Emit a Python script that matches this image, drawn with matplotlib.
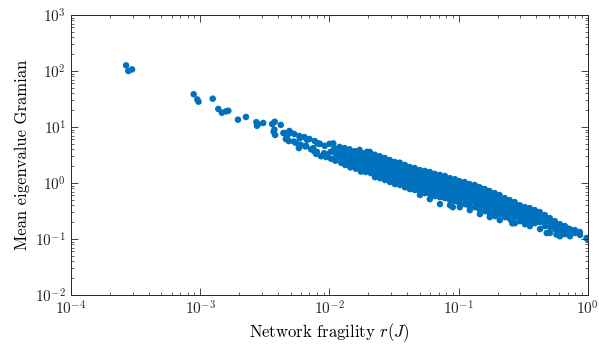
import matplotlib
matplotlib.use('Agg')
import matplotlib.pyplot as plt
import numpy as np

plt.rcParams['font.family'] = 'serif'
plt.rcParams['font.serif'] = ['cmr10', 'DejaVu Serif']
plt.rcParams['mathtext.fontset'] = 'cm'
plt.rcParams['axes.formatter.use_mathtext'] = True

# sparse tail (small fragility)
r_tail = [2.67e-4, 2.78e-4, 2.97e-4, 8.9e-4, 9.5e-4, 9.7e-4, 1.25e-3, 1.38e-3, 1.47e-3, 1.58e-3,
          1.65e-3, 1.96e-3, 2.26e-3, 2.72e-3, 2.75e-3, 2.8e-3, 3.07e-3, 3.6e-3, 3.77e-3, 3.7e-3,
          3.8e-3, 3.75e-3, 4.2e-3, 4.4e-3, 4.7e-3, 5.0e-3, 5.3e-3, 5.9e-3, 6.5e-3, 6.7e-3,
          7.5e-3, 8.0e-3, 8.4e-3, 9.6e-3, 8.1e-3, 1.07e-2]
g_tail = [126, 100, 107, 38.4, 31, 28.3, 32, 21, 18, 19,
          19.5, 13.5, 15.1, 12.2, 10.5, 11.2, 11.8, 11.3, 12.4, 8.2,
          7.2, 9.0, 10.9, 7.8, 6.7, 7.9, 5.5, 6.3, 4.5, 5.9,
          4.2, 3.6, 5.0, 3.2, 5.1, 5.1]

# band, 4.5e-3 .. 1.7e-2
r_band1 = [4.5e-3, 4.6e-3,
           4.9e-3, 4.85e-3,
           5.35e-3, 5.5e-3,
           5.85e-3, 6.0e-3, 5.8e-3,
           6.4e-3, 6.6e-3,
           7.0e-3, 7.2e-3,
           7.7e-3, 7.6e-3, 7.9e-3,
           8.4e-3, 8.6e-3,
           9.2e-3, 9.1e-3, 9.4e-3,
           1.0e-2, 1.02e-2, 1.03e-2,
           1.09e-2, 1.1e-2, 1.12e-2, 1.11e-2,
           1.2e-2, 1.21e-2, 1.22e-2, 1.19e-2, 1.23e-2,
           1.31e-2, 1.33e-2, 1.32e-2, 1.3e-2, 1.34e-2, 1.32e-2,
           1.43e-2, 1.45e-2, 1.44e-2, 1.46e-2, 1.42e-2, 1.44e-2, 1.45e-2,
           1.57e-2, 1.58e-2, 1.6e-2, 1.56e-2, 1.59e-2, 1.57e-2, 1.6e-2,
           1.71e-2, 1.72e-2, 1.74e-2, 1.7e-2, 1.73e-2, 1.71e-2, 1.75e-2]
g_band1 = [7.8, 6.1,
           8.5, 5.6,
           7.5, 5.2,
           6.9, 4.8, 4.2,
           6.6, 4.6,
           6.1, 4.0,
           5.6, 3.7, 3.3,
           5.0, 3.0,
           4.6, 3.4, 2.9,
           5.0, 3.6, 2.7,
           4.2, 3.6, 3.2, 2.5,
           4.4, 3.7, 3.3, 2.9, 2.3,
           4.2, 3.7, 3.2, 2.8, 2.5, 2.1,
           4.0, 3.6, 3.2, 2.8, 2.5, 2.2, 1.9,
           3.7, 3.3, 2.9, 2.6, 2.3, 2.0, 1.8,
           3.9, 3.2, 2.8, 2.5, 2.2, 1.9, 1.6]

# band, 1.9e-2 .. 6.6e-2
r_band2 = [1.87e-2, 1.88e-2, 1.9e-2, 1.86e-2, 1.89e-2, 1.88e-2, 1.91e-2, 1.95e-2,
           2.05e-2, 2.06e-2, 2.08e-2, 2.04e-2, 2.07e-2, 2.05e-2, 2.09e-2,
           2.24e-2, 2.25e-2, 2.27e-2, 2.23e-2, 2.26e-2, 2.24e-2, 2.28e-2, 2.25e-2,
           2.45e-2, 2.46e-2, 2.48e-2, 2.44e-2, 2.47e-2, 2.45e-2, 2.49e-2, 2.46e-2,
           2.68e-2, 2.69e-2, 2.71e-2, 2.67e-2, 2.7e-2, 2.68e-2, 2.72e-2, 2.69e-2,
           2.93e-2, 2.94e-2, 2.96e-2, 2.92e-2, 2.95e-2, 2.93e-2, 2.97e-2, 2.94e-2,
           3.2e-2, 3.21e-2, 3.23e-2, 3.19e-2, 3.22e-2, 3.2e-2, 3.24e-2, 3.21e-2,
           3.5e-2, 3.51e-2, 3.53e-2, 3.49e-2, 3.52e-2, 3.5e-2, 3.54e-2, 3.51e-2,
           3.83e-2, 3.84e-2, 3.86e-2, 3.82e-2, 3.85e-2, 3.83e-2, 3.87e-2, 3.84e-2,
           4.18e-2, 4.19e-2, 4.21e-2, 4.17e-2, 4.2e-2, 4.18e-2, 4.22e-2, 4.19e-2,
           4.57e-2, 4.58e-2, 4.6e-2, 4.56e-2, 4.59e-2, 4.57e-2, 4.61e-2, 4.58e-2,
           5.0e-2, 5.01e-2, 5.03e-2, 4.99e-2, 5.02e-2, 5.0e-2, 5.04e-2, 5.01e-2, 5.02e-2,
           5.47e-2, 5.48e-2, 5.5e-2, 5.46e-2, 5.49e-2, 5.47e-2, 5.51e-2, 5.48e-2,
           5.98e-2, 6.0e-2, 6.02e-2, 5.97e-2, 6.01e-2, 5.99e-2, 6.03e-2, 6.0e-2, 5.98e-2,
           6.54e-2, 6.55e-2, 6.57e-2, 6.53e-2, 6.56e-2, 6.54e-2, 6.58e-2, 6.55e-2]
g_band2 = [3.4, 3.0, 2.7, 2.4, 2.1, 1.85, 1.57, 3.6,
           3.6, 3.0, 2.6, 2.3, 2.0, 1.8, 1.5,
           3.2, 2.8, 2.5, 2.2, 1.9, 1.7, 1.45, 1.27,
           3.0, 2.7, 2.4, 2.1, 1.85, 1.64, 1.45, 1.22,
           2.8, 2.5, 2.2, 1.9, 1.7, 1.5, 1.33, 1.13,
           2.57, 2.3, 2.0, 1.8, 1.57, 1.39, 1.22, 1.04,
           2.37, 2.1, 1.85, 1.64, 1.45, 1.27, 1.13, 0.955,
           2.3, 2.0, 1.8, 1.57, 1.39, 1.22, 1.08, 0.92,
           2.1, 1.85, 1.64, 1.45, 1.27, 1.13, 1.0, 0.84,
           1.93, 1.70, 1.5, 1.33, 1.17, 1.04, 0.92, 0.78,
           1.85, 1.64, 1.45, 1.27, 1.13, 1.0, 0.88, 0.75,
           1.7, 1.5, 1.33, 1.17, 1.04, 0.92, 0.81, 0.69, 0.61,
           1.64, 1.45, 1.27, 1.13, 1.0, 0.88, 0.78, 0.66,
           1.57, 1.39, 1.22, 1.08, 0.955, 0.84, 0.746, 0.633, 0.515,
           1.45, 1.27, 1.13, 1.0, 0.88, 0.78, 0.687, 0.583]

# band, 7.2e-2 .. 0.21
r_band3 = [7.15e-2, 7.16e-2, 7.18e-2, 7.14e-2, 7.17e-2, 7.15e-2, 7.19e-2, 7.16e-2, 7.17e-2,
           7.82e-2, 7.83e-2, 7.85e-2, 7.81e-2, 7.84e-2, 7.82e-2, 7.86e-2, 7.83e-2,
           8.55e-2, 8.56e-2, 8.58e-2, 8.54e-2, 8.57e-2, 8.55e-2, 8.59e-2, 8.56e-2, 8.57e-2,
           9.35e-2, 9.36e-2, 9.38e-2, 9.34e-2, 9.37e-2, 9.35e-2, 9.39e-2, 9.36e-2, 9.0e-2,
           0.101, 0.102, 0.103, 0.1015, 0.1025, 0.102, 0.103, 0.101, 0.102,
           0.111, 0.112, 0.113, 0.1115, 0.1125, 0.112, 0.113, 0.112,
           0.121, 0.122, 0.123, 0.1215, 0.1225, 0.122, 0.123, 0.121, 0.122,
           0.133, 0.134, 0.135, 0.1335, 0.1345, 0.134, 0.135, 0.134,
           0.145, 0.146, 0.147, 0.1455, 0.1465, 0.146, 0.147, 0.145, 0.146, 0.15,
           0.159, 0.16, 0.161, 0.1595, 0.1605, 0.16, 0.161, 0.16,
           0.173, 0.174, 0.175, 0.1735, 0.1745, 0.174, 0.175, 0.173, 0.174,
           0.19, 0.191, 0.192, 0.1905, 0.1915, 0.191, 0.192, 0.191,
           0.207, 0.208, 0.209, 0.2075, 0.2085, 0.208, 0.209, 0.208]
g_band3 = [1.39, 1.22, 1.08, 0.955, 0.84, 0.746, 0.66, 0.56, 0.42,
           1.33, 1.17, 1.04, 0.92, 0.81, 0.72, 0.633, 0.537,
           1.22, 1.08, 0.955, 0.84, 0.746, 0.66, 0.583, 0.494, 0.40,
           1.17, 1.04, 0.92, 0.81, 0.72, 0.633, 0.56, 0.475, 0.37,
           1.08, 0.955, 0.84, 0.746, 0.66, 0.583, 0.515, 0.437, 0.37,
           1.04, 0.92, 0.81, 0.72, 0.633, 0.56, 0.494, 0.419,
           0.955, 0.84, 0.746, 0.66, 0.583, 0.515, 0.455, 0.386, 0.328,
           0.92, 0.81, 0.72, 0.633, 0.56, 0.494, 0.437, 0.37,
           0.84, 0.746, 0.66, 0.583, 0.515, 0.455, 0.40, 0.34, 0.278, 0.78,
           0.78, 0.687, 0.61, 0.537, 0.475, 0.419, 0.37, 0.315,
           0.72, 0.633, 0.56, 0.494, 0.437, 0.386, 0.34, 0.29, 0.246,
           0.66, 0.583, 0.515, 0.455, 0.40, 0.356, 0.302, 0.256,
           0.61, 0.537, 0.475, 0.419, 0.37, 0.328, 0.278, 0.217]

# band, 0.23 .. 1
r_band4 = [0.227, 0.228, 0.229, 0.2275, 0.2285, 0.228, 0.229,
           0.248, 0.249, 0.25, 0.2485, 0.2495, 0.249, 0.25,
           0.271, 0.272, 0.273, 0.2715, 0.2725, 0.272, 0.273, 0.26,
           0.297, 0.298, 0.299, 0.2975, 0.2985, 0.298,
           0.325, 0.326, 0.327, 0.3255, 0.3265, 0.326,
           0.355, 0.356, 0.357, 0.3555, 0.3565, 0.356,
           0.388, 0.389, 0.39, 0.3885, 0.3895,
           0.424, 0.425, 0.426, 0.4245, 0.426,
           0.464, 0.465, 0.466, 0.4645, 0.48,
           0.507, 0.508, 0.509, 0.508,
           0.554, 0.555, 0.556, 0.57,
           0.606, 0.607, 0.608, 0.607,
           0.663, 0.664, 0.665, 0.69,
           0.725, 0.726, 0.727, 0.75,
           0.792, 0.794,
           0.866, 0.868,
           0.975, 0.99]
g_band4 = [0.537, 0.475, 0.419, 0.37, 0.328, 0.29, 0.246,
           0.494, 0.437, 0.386, 0.34, 0.302, 0.267, 0.226,
           0.455, 0.40, 0.356, 0.315, 0.278, 0.246, 0.192, 0.19,
           0.40, 0.356, 0.315, 0.278, 0.246, 0.208,
           0.37, 0.328, 0.29, 0.256, 0.226, 0.184,
           0.356, 0.315, 0.278, 0.246, 0.208, 0.17,
           0.328, 0.29, 0.256, 0.226, 0.192,
           0.302, 0.267, 0.236, 0.20, 0.15,
           0.267, 0.236, 0.208, 0.17, 0.128,
           0.236, 0.20, 0.163, 0.128,
           0.208, 0.178, 0.15, 0.12,
           0.184, 0.156, 0.138, 0.112,
           0.17, 0.144, 0.122, 0.156,
           0.15, 0.133, 0.112, 0.133,
           0.144, 0.128,
           0.133, 0.118,
           0.104, 0.1]

fragility = np.concatenate([r_tail, r_band1, r_band2, r_band3, r_band4])
gramian = np.concatenate([g_tail, g_band1, g_band2, g_band3, g_band4])

fig = plt.figure(figsize=(5.99, 3.45), dpi=100)
ax = fig.add_axes([0.1185, 0.145, 0.863, 0.8115])
ax.scatter(fragility, gramian, s=22, color='#0072BD', edgecolors='none')
ax.set_xscale('log')
ax.set_yscale('log')
ax.set_xlim(1e-4, 1)
ax.set_ylim(1e-2, 1e3)
ax.set_xlabel('Network fragility $r(J)$', fontsize=12, labelpad=2)
ax.set_ylabel('Mean eigenvalue Gramian', fontsize=12)
ax.tick_params(which='both', direction='in', top=True, right=True, colors='#262626', labelsize=11)
ax.tick_params(which='major', length=5, width=0.6)
ax.tick_params(which='minor', length=2.5, width=0.5)
for sp in ax.spines.values():
    sp.set_color('#262626')
    sp.set_linewidth(0.7)

fig.savefig('out.png', dpi=100)
